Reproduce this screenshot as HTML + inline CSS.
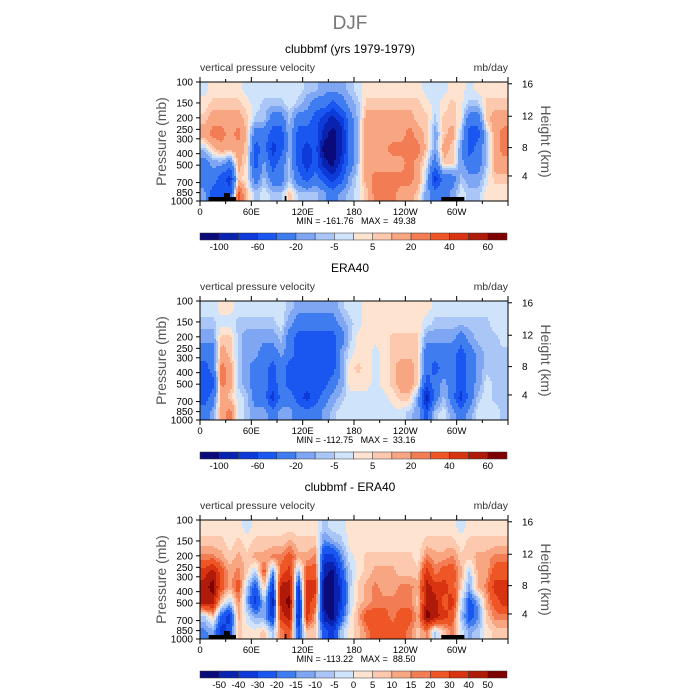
<!DOCTYPE html>
<html><head><meta charset="utf-8">
<style>
html,body{margin:0;padding:0;background:#fff;}
svg{display:block;font-family:"Liberation Sans",sans-serif;}
</style></head>
<body>
<svg id="fig" width="700" height="700" viewBox="0 0 700 700"></svg>
<script>
// ---- data ----
const lonCategories = ["0","10","20","30","40","50","60","70","80","90","100","110","120","130","140","150","160","170","180","190","200","210","220","230","240","250","260","270","280","290","300","310","320","330","340","350"];
const pressureRowLabels = ["100-140","140-190","190-250","250-330","330-440","440-580","580-770","770-1000"];
const xTickLabels = ["0","60E","120E","180","120W","60W"];
const pTickLabels = [100,150,200,250,300,400,500,700,850,1000];
const kmTickLabels = [16,12,8,4];
const kmTickPressures = [103.5,194,356,616];
const levelsAbs = [-100,-80,-60,-40,-20,-10,-5,0,5,10,20,30,40,50,60];
const levelsDiff = [-50,-40,-30,-20,-15,-10,-5,0,5,10,15,20,30,40,50];
const labelsAbs = ["-100","-60","-20","-5","5","20","40","60"];
const labelsDiff = ["-50","-40","-30","-20","-15","-10","-5","0","5","10","15","20","30","40","50"];
const palette = ["#0a0a7a","#0a22b0","#0d3ad8","#1a56f0","#3f7cf0","#7ea6f2","#a9c6f6","#cfe3fa","#fde3d0","#fcc8ae","#f8a582","#f27c54","#ef5626","#d83412","#b01a08","#7e0000"];
const clubbValues = [
[-2,2,7,15,-7,-30,-30,-15],[2,7,15,25,7,-15,-30,-50],[2,7,15,25,15,-15,-50,-50],[2,7,15,15,15,-30,-70,-50],
[2,7,15,25,15,15,7,35],[-2,2,7,7,7,2,2,7],[-2,-2,-7,-30,-50,-50,-30,-7],[-2,-7,-7,-30,-30,-15,-7,-2],
[-2,-7,-30,-50,-70,-50,-30,-7],[-2,-7,-30,-50,-50,-30,-30,-7],[-2,-2,-7,-7,-7,-7,-7,7],[-2,-7,-30,-50,-50,-50,-30,-7],
[-7,-15,-30,-50,-70,-70,-50,-7],[-7,-30,-50,-50,-50,-50,-30,-7],[-15,-30,-70,-90,-110,-90,-50,-15],[-15,-50,-90,-110,-110,-110,-70,-30],
[-15,-30,-70,-90,-90,-70,-50,-15],[-7,-15,-30,-30,-30,-30,-15,-7],[-2,-7,-7,-7,-7,-7,-2,-2],[2,7,15,15,15,15,15,7],
[2,7,15,15,15,15,25,25],[2,7,15,15,15,15,25,25],[2,7,15,15,25,15,25,25],[2,7,15,15,25,15,25,15],
[2,7,15,25,25,25,25,15],[2,7,7,15,25,15,15,7],[-2,2,7,7,7,-2,-7,-15],[-2,-2,-7,-15,-15,-30,-70,-30],
[-2,2,7,7,15,7,-30,-30],[2,7,7,15,7,7,-30,-15],[2,2,2,-7,-15,-15,-7,-2],[-2,-7,-30,-50,-50,-30,-15,-7],
[2,-7,-30,-50,-30,-30,-15,-7],[2,7,7,-7,-7,-7,-2,2],[2,7,15,15,15,15,7,2],[2,7,15,25,25,15,7,2]];
const eraValues = [
[-2,-7,-15,-30,-50,-50,-50,-30],[-2,-7,-15,-30,-30,-50,-30,-15],[2,-2,7,15,25,25,15,15],[2,-2,7,7,15,15,7,25],
[-2,-7,-7,-7,-7,-7,-2,-2],[-2,-7,-15,-15,-15,-15,-7,-7],[-2,-7,-15,-15,-30,-30,-30,-15],[-2,-7,-15,-30,-30,-30,-30,-15],
[-2,-7,-15,-30,-50,-50,-70,-30],[-2,-2,-7,-15,-30,-30,-30,-15],[-7,-15,-30,-30,-50,-50,-30,-15],[-15,-30,-50,-50,-50,-50,-50,-30],
[-15,-30,-50,-50,-50,-50,-70,-30],[-15,-30,-50,-50,-50,-50,-50,-30],[-15,-30,-50,-50,-50,-50,-30,-15],[-15,-30,-50,-50,-50,-30,-15,-7],
[-7,-15,-30,-15,-15,-15,-7,-2],[-2,-7,-7,-2,2,2,-2,-2],[-2,-2,2,2,7,2,-2,-2],[2,2,2,2,2,2,-2,-2],
[2,2,2,-2,-2,-2,-2,-2],[2,2,2,2,2,2,-2,-2],[2,2,7,7,7,7,2,-2],[2,2,7,7,15,15,7,-2],
[2,2,7,7,15,15,7,-7],[2,2,7,7,7,7,-15,-15],[2,-2,-15,-30,-30,-50,-90,-50],[-2,-7,-15,-30,-50,-30,-30,-7],
[-2,-7,-15,-30,-30,-15,-7,-2],[-2,-7,-15,-30,-30,-30,-30,-15],[-2,-7,-30,-50,-50,-50,-70,-30],[-2,-7,-15,-30,-30,-30,-30,-15],
[-2,-7,-7,-15,-15,-15,-7,-2],[-2,-7,-7,-7,-7,-2,-2,-2],[-2,-2,-7,-7,-7,-7,-7,-2],[-2,-2,-2,-7,-7,-7,-7,-7]];
const diffValues = [
[2,7,17,35,45,45,-7,-17],[2,7,17,45,55,45,7,-12],[2,7,12,25,25,7,-25,-35],[2,2,7,12,12,-7,-35,-25],
[2,7,12,17,25,17,12,7],[-2,2,7,7,-7,-12,-2,2],[2,7,12,-7,-25,-35,-12,2],[2,7,12,25,7,-7,-12,7],
[2,7,17,-17,-35,-45,-35,-7],[2,7,17,25,45,45,35,17],[2,12,25,35,45,55,45,25],[2,7,12,-12,-35,-45,-45,-25],
[2,7,12,25,35,35,35,7],[2,7,17,25,35,25,12,7],[-7,-17,-35,-45,-55,-55,-45,-25],[-2,-12,-35,-55,-55,-55,-55,-35],
[-2,-7,-17,-25,-35,-35,-25,-7],[2,2,-2,-7,-7,-7,-2,2],[2,2,2,2,7,7,12,7],[2,2,7,7,12,12,25,17],
[2,2,7,12,17,17,25,25],[2,2,7,12,12,17,25,25],[2,2,7,12,12,17,17,25],[2,2,7,7,17,17,25,25],
[2,2,7,7,17,17,25,17],[2,2,2,7,12,7,12,7],[2,7,17,35,45,45,55,17],[2,7,12,17,35,45,45,-7],
[2,7,12,25,35,25,35,7],[2,7,17,25,25,35,25,17],[-2,2,7,12,7,-2,-7,-2],[2,7,7,-7,-12,-25,-25,-12],
[2,7,12,12,12,-12,-17,-7],[2,7,12,12,17,12,7,2],[2,7,17,25,35,25,17,7],[2,7,17,25,35,35,17,7]];

// ---- drawing ----
const NS="http://www.w3.org/2000/svg";
const svg=document.getElementById('fig');
function el(tag,attrs,parent,text){const e=document.createElementNS(NS,tag);for(const k in attrs)e.setAttribute(k,attrs[k]);if(text!==undefined)e.textContent=text;(parent||svg).appendChild(e);return e;}
const X0=200,X1=508,PH=119;
const xScale=lon=>X0+(lon/360)*(X1-X0);
function colorIdx(v,levels){let i=0;while(i<levels.length&&v>=levels[i])i++;return i;}

const t=el('text',{x:350,y:29,'text-anchor':'middle','font-size':19,fill:'#777'},svg,'DJF');


function sample(values,fc,fr){
  const nc=values.length,nr=values[0].length;
  fc=Math.max(0,Math.min(nc-1,fc));fr=Math.max(0,Math.min(nr-1,fr));
  const c0=Math.floor(fc),r0=Math.floor(fr),c1=Math.min(nc-1,c0+1),r1=Math.min(nr-1,r0+1);
  const tc=fc-c0,tr=fr-r0;
  const a=values[c0][r0]*(1-tr)+values[c0][r1]*tr;
  const b=values[c1][r0]*(1-tr)+values[c1][r1]*tr;
  return a*(1-tc)+b*tc;
}

function panel(top,title,values,levels,cbLabels,cbLabelIdx,minmax,name,terrain){
  const g=el('g',{});
  
  const yScale=p=>top+PH*(Math.log10(p)-2);
  const tt=el('text',{x:350,y:top-29,'text-anchor':'middle','font-size':12,fill:'#000'},g,title);
  
  const l1=el('text',{x:X0,y:top-11,'font-size':10.5,fill:'#333'},g,'vertical pressure velocity');
  
  const l2=el('text',{x:X1,y:top-11,'font-size':10.5,fill:'#333','text-anchor':'end'},g,'mb/day');
  
  const cells=el('g',{'shape-rendering':'crispEdges'},g);
  
  const nc=lonCategories.length,nr=pressureRowLabels.length,rowH=PH/nr;
  const colW=(X1-X0)/nc;
  const step=2;
  for(let y=0;y<PH;y+=step){
    const fr=(y+step/2)/rowH-0.5;
    let runStart=0,runIdx=-1;
    for(let x=0;x<=X1-X0;x+=step){
      let idx=-2;
      if(x<X1-X0){const fc=(x+step/2)/colW-0.5;idx=colorIdx(sample(values,fc,fr),levels);}
      if(idx!==runIdx){
        if(runIdx>=0){
          const r=el('rect',{x:X0+runStart,y:top+y,width:Math.min(x,X1-X0)-runStart,height:Math.min(step,PH-y),fill:palette[runIdx]},cells);
          
          
        }
        runStart=x;runIdx=idx;
      }
    }
  }
  if(terrain){terrain.forEach(tr=>{el('rect',{x:xScale(tr[0]),y:top+PH-tr[2],width:xScale(tr[1])-xScale(tr[0]),height:tr[2],fill:'#000'},g);});}
  el('rect',{x:X0,y:top,width:X1-X0,height:PH,fill:'none',stroke:'#000','stroke-width':1},g);
  pTickLabels.forEach(p=>{const y=yScale(p);el('line',{x1:X0-4,x2:X0,y1:y,y2:y,stroke:'#000'},g);
    el('text',{x:X0-7,y:y+3.5,'font-size':10,'text-anchor':'end',fill:'#000'},g,String(p));});
  kmTickLabels.forEach((k,i)=>{const y=yScale(kmTickPressures[i]);el('line',{x1:X1,x2:X1+4,y1:y,y2:y,stroke:'#000'},g);
    el('text',{x:X1+14,y:y+3.5,'font-size':10,fill:'#000'},g,String(k));});
  const ya=el('text',{x:0,y:0,'font-size':14,fill:'#555','text-anchor':'middle',transform:`translate(166,${top+PH/2}) rotate(-90)`},g,'Pressure (mb)');
  
  const yb=el('text',{x:0,y:0,'font-size':14,fill:'#555','text-anchor':'middle',transform:`translate(541,${top+PH/2}) rotate(90)`},g,'Height (km)');
  
  for(let lon=0;lon<=360;lon+=30){const x=xScale(lon);const major=lon%60===0;
    el('line',{x1:x,x2:x,y1:top+PH,y2:top+PH+(major?5:3),stroke:'#000'},g);
    el('line',{x1:x,x2:x,y1:top,y2:top-(major?5:3),stroke:'#000'},g);
    if(major&&lon<360) el('text',{x:x,y:top+PH+14,'font-size':9.5,'text-anchor':'middle',fill:'#000'},g,xTickLabels[lon/60]);}
  el('text',{x:356,y:top+PH+23,'font-size':9,'text-anchor':'middle',fill:'#000',style:'white-space:pre'},g,minmax);
  const cg=el('g',{},g);
  const cy=top+PH+32, cw=(X1-1-X0)/16;
  palette.forEach((c,i)=>{el('rect',{x:X0+i*cw,y:cy,width:cw,height:7,fill:c,stroke:'#333','stroke-width':0.5},cg);});
  cbLabels.forEach((lab,i)=>{const b=cbLabelIdx[i];el('text',{x:X0+(b+1)*cw,y:cy+17,'font-size':9.5,'text-anchor':'middle',fill:'#000'},cg,lab);});
}
const terr=[[10,42,4],[28,35,8],[99,101,5],[282,309,4]];
panel(82,'clubbmf (yrs 1979-1979)',clubbValues,levelsAbs,labelsAbs,[0,2,4,6,8,10,12,14],'MIN = -161.76   MAX =  49.38','clubbmf',terr);
panel(301,'ERA40',eraValues,levelsAbs,labelsAbs,[0,2,4,6,8,10,12,14],'MIN = -112.75   MAX =  33.16','era40',null);
panel(520,'clubbmf - ERA40',diffValues,levelsDiff,labelsDiff,[0,1,2,3,4,5,6,7,8,9,10,11,12,13,14],'MIN = -113.22   MAX =  88.50','difference',terr);
</script>
</body></html>
